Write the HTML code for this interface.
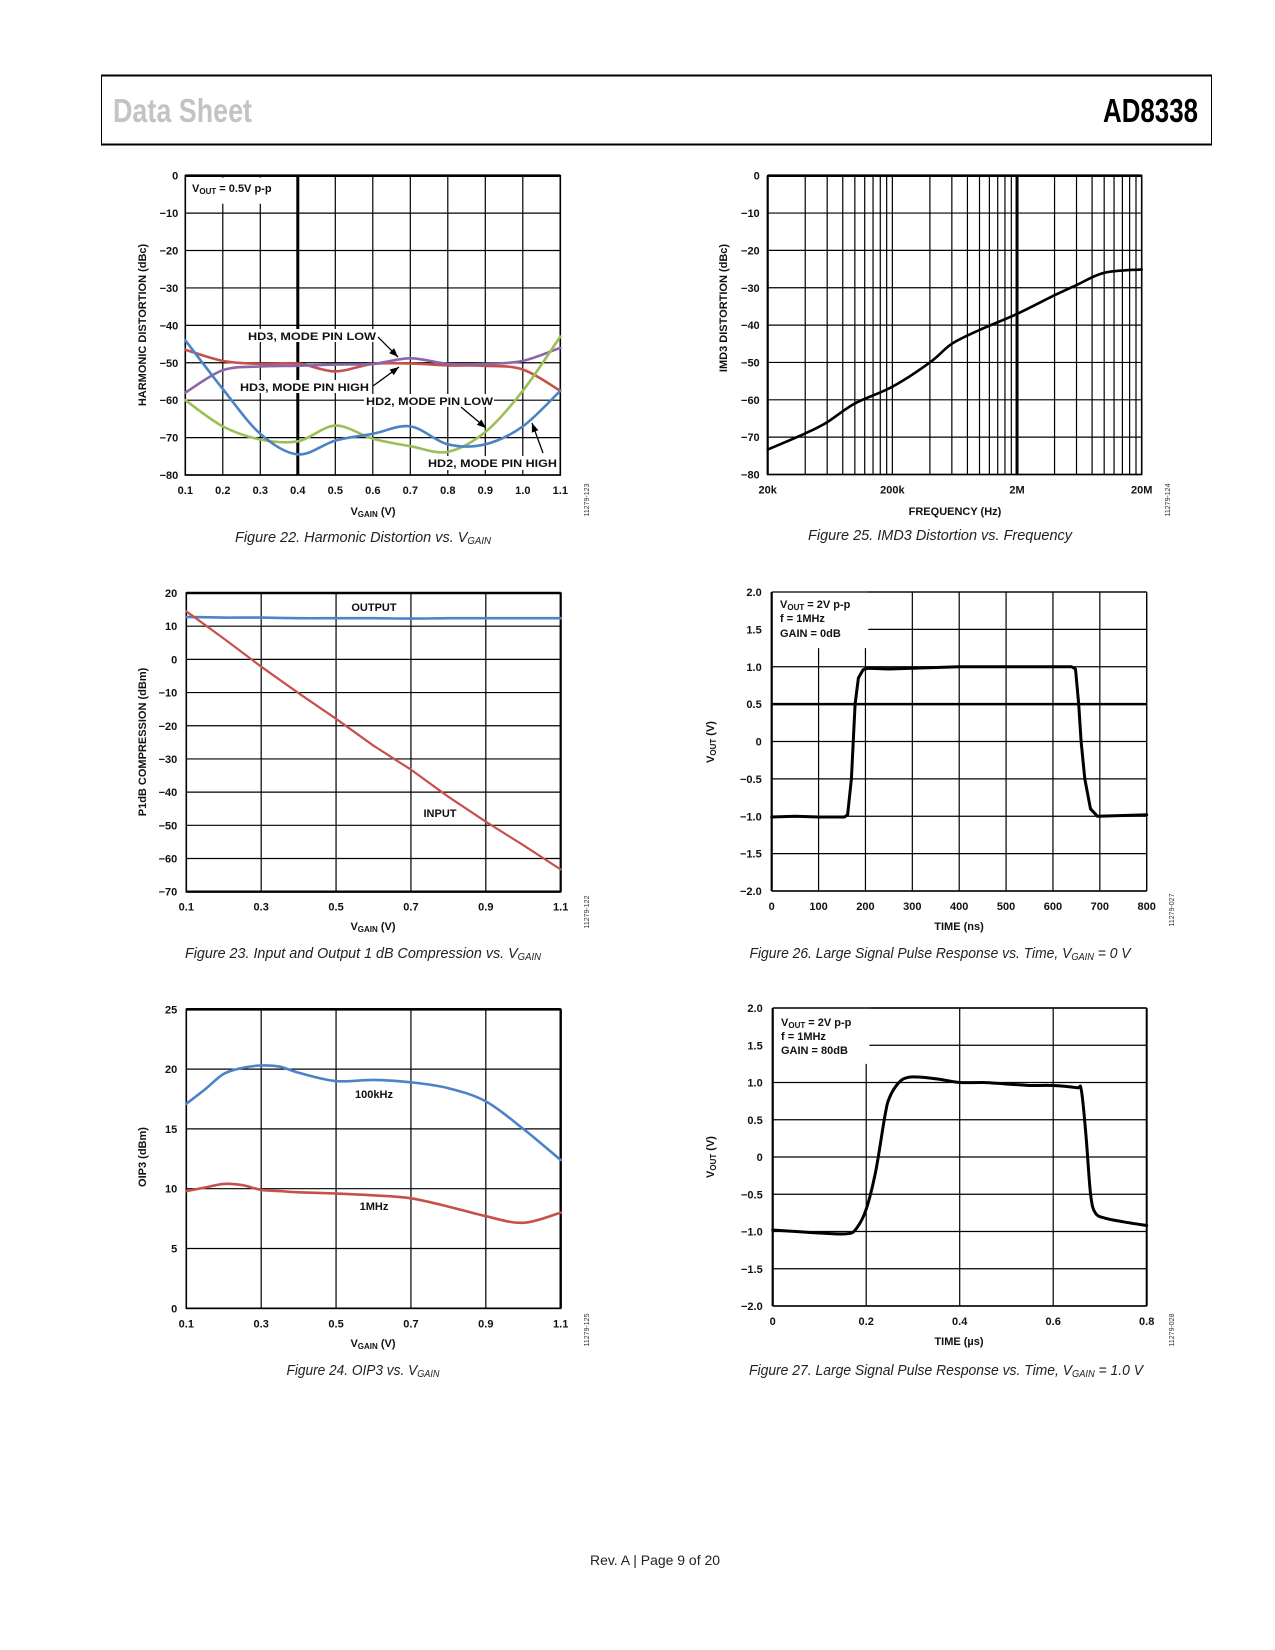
<!DOCTYPE html>
<html><head><meta charset="utf-8"><style>
html,body{margin:0;padding:0;background:#fff}
svg{display:block}
text{font-family:"Liberation Sans",sans-serif}
.t{font-size:11px;font-weight:bold;fill:#111}
.cap{font-size:15px;font-style:italic;fill:#222}
</style></head><body>
<svg id="page" width="1275" height="1650" viewBox="0 0 1275 1650" xmlns="http://www.w3.org/2000/svg">
<line x1="101" y1="75.5" x2="1212" y2="75.5" stroke="#000" stroke-width="2"/>
<line x1="101" y1="144.5" x2="1212" y2="144.5" stroke="#000" stroke-width="2"/>
<line x1="101.5" y1="75" x2="101.5" y2="145" stroke="#000" stroke-width="1"/>
<line x1="1211.5" y1="75" x2="1211.5" y2="145" stroke="#000" stroke-width="1"/>
<text x="113" y="122" font-size="33" font-weight="bold" fill="#c3c3c3" textLength="139" lengthAdjust="spacingAndGlyphs">Data Sheet</text>
<text x="1103" y="122" font-size="33" font-weight="bold" fill="#000" textLength="95" lengthAdjust="spacingAndGlyphs">AD8338</text>
<g id="charts"></g>
<text class="cap" x="363" y="542" text-anchor="middle" textLength="256" lengthAdjust="spacingAndGlyphs">Figure 22. Harmonic Distortion vs. V<tspan font-size="10" dy="2">GAIN</tspan></text>
<text class="cap" x="940" y="540" text-anchor="middle" textLength="264" lengthAdjust="spacingAndGlyphs">Figure 25. IMD3 Distortion vs. Frequency</text>
<text class="cap" x="363" y="958" text-anchor="middle" textLength="356" lengthAdjust="spacingAndGlyphs">Figure 23. Input and Output 1 dB Compression vs. V<tspan font-size="10" dy="2">GAIN</tspan></text>
<text class="cap" x="940" y="958" text-anchor="middle" textLength="381" lengthAdjust="spacingAndGlyphs">Figure 26. Large Signal Pulse Response vs. Time, V<tspan font-size="10" dy="2">GAIN</tspan><tspan dy="-2"> = 0 V</tspan></text>
<text class="cap" x="363" y="1375" text-anchor="middle" textLength="153" lengthAdjust="spacingAndGlyphs">Figure 24. OIP3 vs. V<tspan font-size="10" dy="2">GAIN</tspan></text>
<text class="cap" x="946" y="1375" text-anchor="middle" textLength="394" lengthAdjust="spacingAndGlyphs">Figure 27. Large Signal Pulse Response vs. Time, V<tspan font-size="10" dy="2">GAIN</tspan><tspan dy="-2"> = 1.0 V</tspan></text>
<text x="655" y="1565" font-size="14" fill="#222" text-anchor="middle" textLength="130" lengthAdjust="spacingAndGlyphs">Rev. A | Page 9 of 20</text>
</svg>
<script>
// ---- Figure 22 data ----
const hdX = [0.1,0.2,0.3,0.4,0.5,0.6,0.7,0.8,0.9,1.0,1.1];
const hd2High = [-44,-57,-69,-74.5,-70.8,-69,-67,-71.8,-71.8,-67,-57.5];
const hd2Low = [-60,-67,-70.5,-71,-66.8,-70.3,-72.3,-73.8,-68.5,-57.5,-43];
const hd3High = [-46.5,-49.5,-50.3,-50.2,-52.3,-50.3,-50.2,-50.7,-50.8,-51.8,-57.5];
const hd3Low = [-58,-52,-51,-50.8,-50.5,-50.3,-48.8,-50.3,-50.3,-49.5,-46];
const hdYTicks = [0,-10,-20,-30,-40,-50,-60,-70,-80];
const hdXTicks = ["0.1","0.2","0.3","0.4","0.5","0.6","0.7","0.8","0.9","1.0","1.1"];
// ---- Figure 25 data ----
const imdFreq = [20e3,40e3,60e3,100e3,200e3,400e3,600e3,1e6,2e6,4e6,6e6,10e6,20e6];
const imdVal = [-73.3,-69,-66,-61,-56.5,-50,-45,-41.3,-37,-32,-29.3,-26,-25.1];
const imdYTicks = [0,-10,-20,-30,-40,-50,-60,-70,-80];
const imdXTicks = ["20k","200k","2M","20M"];
// ---- Figure 23 data ----
const p1X = [0.1,0.2,0.3,0.4,0.5,0.6,0.7,0.8,0.9,1.0,1.1];
const p1Output = [12.8,12.6,12.6,12.4,12.4,12.4,12.3,12.4,12.4,12.4,12.4];
const p1Input = [14.5,6.3,-2.2,-10.2,-17.9,-26,-33.2,-41.4,-48.9,-56,-63.3];
const p1YTicks = [20,10,0,-10,-20,-30,-40,-50,-60,-70];
const p1XTicks = ["0.1","0.3","0.5","0.7","0.9","1.1"];
// ---- Figure 26 data ----
const pulse0T = [0,50,100,155,162,170,178,185,195,205,250,300,350,400,500,600,640,648,655,660,668,680,695,750,800];
const pulse0V = [-1.01,-1.0,-1.01,-1.01,-0.98,-0.5,0.5,0.85,0.96,0.98,0.97,0.98,0.99,1.0,1.0,1.0,1.0,0.97,0.5,0.0,-0.5,-0.9,-1.0,-0.99,-0.98];
const pulseYTicks = ["2.0","1.5","1.0","0.5","0","\u22120.5","\u22121.0","\u22121.5","\u22122.0"];
const pulse0XTicks = ["0","100","200","300","400","500","600","700","800"];
// ---- Figure 24 data ----
const oipX = [0.1,0.15,0.2,0.25,0.3,0.35,0.4,0.5,0.6,0.7,0.8,0.9,1.0,1.1];
const oip100k = [17.1,18.3,19.6,20.1,20.3,20.2,19.7,19.0,19.1,18.9,18.4,17.3,15.0,12.4];
const oip1M = [9.8,10.1,10.4,10.3,9.9,9.8,9.7,9.6,9.45,9.2,8.5,7.7,7.15,8.0];
const oipYTicks = [25,20,15,10,5,0];
const oipXTicks = ["0.1","0.3","0.5","0.7","0.9","1.1"];
// ---- Figure 27 data ----
const pulse80T = [0,0.05,0.1,0.16,0.18,0.2,0.22,0.24,0.25,0.27,0.29,0.32,0.36,0.4,0.45,0.5,0.55,0.6,0.65,0.66,0.67,0.68,0.69,0.71,0.75,0.8];
const pulse80V = [-0.98,-1.0,-1.02,-1.03,-0.95,-0.7,-0.2,0.55,0.8,1.0,1.07,1.07,1.04,1.0,1.0,0.98,0.96,0.96,0.93,0.9,0.3,-0.5,-0.75,-0.82,-0.87,-0.92];
const pulse80XTicks = ["0","0.2","0.4","0.6","0.8"];

const NS = "http://www.w3.org/2000/svg";
const root = document.getElementById("charts");
function mk(tag, attrs, parent){const e=document.createElementNS(NS,tag);for(const k in attrs)e.setAttribute(k,attrs[k]);(parent||root).appendChild(e);return e;}
function fmt(v){return String(v).replace("-","\u2212");}
function axes(x0,x1,y0,y1,xmin,xmax,ymin,ymax,log){
  const sx = log ? v=>x0+(Math.log10(v)-Math.log10(xmin))/(Math.log10(xmax)-Math.log10(xmin))*(x1-x0)
                 : v=>x0+(v-xmin)/(xmax-xmin)*(x1-x0);
  const sy = v=>y0+(ymax-v)/(ymax-ymin)*(y1-y0);
  return {sx,sy};
}
function smoothPath(pts){
  let d="M"+pts[0][0].toFixed(1)+","+pts[0][1].toFixed(1);
  for(let i=0;i<pts.length-1;i++){
    const p0=pts[i-1]||pts[i],p1=pts[i],p2=pts[i+1],p3=pts[i+2]||p2;
    const c1=[p1[0]+(p2[0]-p0[0])/6,p1[1]+(p2[1]-p0[1])/6];
    const c2=[p2[0]-(p3[0]-p1[0])/6,p2[1]-(p3[1]-p1[1])/6];
    d+="C"+c1[0].toFixed(1)+","+c1[1].toFixed(1)+" "+c2[0].toFixed(1)+","+c2[1].toFixed(1)+" "+p2[0].toFixed(1)+","+p2[1].toFixed(1);
  }
  return d;
}
function lineD(pts){return "M"+pts.map(p=>p[0].toFixed(1)+","+p[1].toFixed(1)).join("L");}
function gl(g,x1,y1,x2,y2,w){const l=mk("line",{x1,y1,x2,y2,stroke:"#000","stroke-width":w||1.2},g);return l;}
function txt(g,x,y,s,anchor,name,extra){const t=mk("text",Object.assign({x,y,"text-anchor":anchor||"start",class:"t"},extra||{}),g);t.textContent=s;return t;}
function frame(g,x0,x1,y0,y1){const r=mk("rect",{x:x0,y:y0,width:x1-x0,height:y1-y0,fill:"none",stroke:"#000","stroke-width":1.6},g);
  gl(g,x0,y0,x1,y0,2.6);}
function yTitle(g,x,cy,s,name){const t=mk("text",{x:0,y:0,"text-anchor":"middle",class:"t",transform:`translate(${x},${cy}) rotate(-90)`},g);t.textContent=s;return t;}
function vgainTitle(g,cx,y){const t=mk("text",{x:cx,y,"text-anchor":"middle",class:"t"},g);
  t.innerHTML='V<tspan font-size="8" dy="2">GAIN</tspan><tspan dy="-2"> (V)</tspan>';}
function figId(g,x,cy,s){const t=mk("text",{x:0,y:0,"text-anchor":"middle","font-size":7,fill:"#333",transform:`translate(${x},${cy}) rotate(-90)`},g);t.textContent=s;}
function series(g,pts,color,w,name,smooth){const p=mk("path",{d:smooth?smoothPath(pts):lineD(pts),fill:"none",stroke:color,"stroke-width":w,"stroke-linejoin":"round","stroke-linecap":"round"},g);}
function arrow(g,x1,y1,x2,y2,name){const l=mk("line",{x1,y1,x2,y2,stroke:"#000","stroke-width":1.3},g);
  const a=Math.atan2(y2-y1,x2-x1),L=9,W=3.5;
  const p=mk("polygon",{points:`${x2},${y2} ${x2-L*Math.cos(a)+W*Math.sin(a)},${y2-L*Math.sin(a)-W*Math.cos(a)} ${x2-L*Math.cos(a)-W*Math.sin(a)},${y2-L*Math.sin(a)+W*Math.cos(a)}`,fill:"#000"},g);
  }
function whiteBox(g,x,y,w,h){const r=mk("rect",{x,y,width:w,height:h,fill:"#fff"},g);}
function vout(g,x,cy){const t=mk("text",{x:0,y:0,"text-anchor":"middle",class:"t",transform:`translate(${x},${cy}) rotate(-90)`},g);t.innerHTML='V<tspan font-size="8" dy="2">OUT</tspan><tspan dy="-2"> (V)</tspan>';}

// ===== Figure 22 =====
(function(){
  const g=mk("g",{});
  const X0=185.3,X1=560.3,Y0=175.7,Y1=475;
  const {sx,sy}=axes(X0,X1,Y0,Y1,0.1,1.1,-80,0);
  hdXTicks.forEach(s=>{const v=+s;gl(g,sx(v),Y0,sx(v),Y1,Math.abs(v-0.4)<1e-6?3:1.2);txt(g,sx(v),Y1+19,s,"middle","x-tick-label");});
  hdYTicks.forEach(v=>{gl(g,X0,sy(v),X1,sy(v));txt(g,X0-7,sy(v)+4,fmt(v),"end","y-tick-label");});
  whiteBox(g,X0+1,Y0+2,sx(0.4)-X0-3,sy(-7.5)-Y0-2);
  frame(g,X0,X1,Y0,Y1);
  const t=txt(g,192,192,"","start","vout-annotation");t.innerHTML='V<tspan font-size="8" dy="2">OUT</tspan><tspan dy="-2"> = 0.5V p-p</tspan>';
  whiteBox(g,364,394,130,13);
  whiteBox(g,246,329,132,13);
  series(g,hdX.map((x,i)=>[sx(x),sy(hd3High[i])]),"#c8504a",2.6,"hd3-mode-pin-high-line",true);
  series(g,hdX.map((x,i)=>[sx(x),sy(hd3Low[i])]),"#8a65a9",2.6,"hd3-mode-pin-low-line",true);
  series(g,hdX.map((x,i)=>[sx(x),sy(hd2Low[i])]),"#9bbf58",2.6,"hd2-mode-pin-low-line",true);
  series(g,hdX.map((x,i)=>[sx(x),sy(hd2High[i])]),"#4b83c6",2.6,"hd2-mode-pin-high-line",true);
  whiteBox(g,238,380,132,13);
  txt(g,248,340,"HD3, MODE PIN LOW","start","hd3-low-label",{textLength:128,lengthAdjust:"spacingAndGlyphs"});
  arrow(g,378,337,398,357,"hd3-low-arrow");
  txt(g,240,391,"HD3, MODE PIN HIGH","start","hd3-high-label",{textLength:129,lengthAdjust:"spacingAndGlyphs"});
  arrow(g,373,386,399,367,"hd3-high-arrow");
  txt(g,366,405,"HD2, MODE PIN LOW","start","hd2-low-label",{textLength:127,lengthAdjust:"spacingAndGlyphs"});
  arrow(g,461,407,486,428,"hd2-low-arrow");
  whiteBox(g,426,456,132,14);
  txt(g,428,467,"HD2, MODE PIN HIGH","start","hd2-high-label",{textLength:129,lengthAdjust:"spacingAndGlyphs"});
  arrow(g,543,453,532,423,"hd2-high-arrow");
  yTitle(g,146,325,"HARMONIC DISTORTION (dBc)","y-axis-title");
  vgainTitle(g,373,515);
  figId(g,589,500,"11279-123");
})();

// ===== Figure 25 =====
(function(){
  const g=mk("g",{});
  const X0=767.7,X1=1141.7,Y0=175.7,Y1=474.5;
  const {sx,sy}=axes(X0,X1,Y0,Y1,20e3,20e6,-80,0,true);
  [2e4,2e5,2e6].forEach(base=>{[1,2,3,4,5,6,7,8,9].forEach(k=>{const f=base*k;gl(g,sx(f),Y0,sx(f),Y1,Math.abs(f-2e6)<1?3:1.2);});});
  gl(g,sx(20e6),Y0,sx(20e6),Y1);
  imdYTicks.forEach(v=>{gl(g,X0,sy(v),X1,sy(v));txt(g,X0-8,sy(v)+4,fmt(v),"end","y-tick-label");});
  imdXTicks.forEach((s,i)=>txt(g,sx(20e3*Math.pow(10,i)),Y1+19,s,"middle","x-tick-label"));
  frame(g,X0,X1,Y0,Y1);
  gl(g,X0,Y0,X0,Y1,2.2);
  series(g,imdFreq.map((f,i)=>[sx(f),sy(imdVal[i])]),"#000",2.6,"imd3-line",true);
  yTitle(g,727,308,"IMD3 DISTORTION (dBc)","y-axis-title");
  txt(g,955,515,"FREQUENCY (Hz)","middle","x-axis-title");
  figId(g,1170,500,"11279-124");
})();

// ===== Figure 23 =====
(function(){
  const g=mk("g",{});
  const X0=186.3,X1=560.7,Y0=593,Y1=891.7;
  const {sx,sy}=axes(X0,X1,Y0,Y1,0.1,1.1,-70,20);
  p1XTicks.forEach(s=>{gl(g,sx(+s),Y0,sx(+s),Y1);txt(g,sx(+s),Y1+19,s,"middle","x-tick-label");});
  p1YTicks.forEach(v=>{gl(g,X0,sy(v),X1,sy(v));txt(g,X0-9,sy(v)+4,fmt(v),"end","y-tick-label");});
  frame(g,X0,X1,Y0,Y1);gl(g,X0,Y1,X1,Y1,2.4);gl(g,X1,Y0,X1,Y1,2.2);
  whiteBox(g,345,599,58,14);
  txt(g,374,611,"OUTPUT","middle","output-label");
  series(g,p1X.map((x,i)=>[sx(x),sy(p1Output[i])]),"#4b83c6",2.6,"output-line",true);
  series(g,p1X.map((x,i)=>[sx(x),sy(p1Input[i])]),"#c8504a",2.2,"input-line",false);
  txt(g,440,817,"INPUT","middle","input-label");
  yTitle(g,146,742,"P1dB COMPRESSION (dBm)","y-axis-title");
  vgainTitle(g,373,930);
  figId(g,589,912,"11279-122");
})();

// ===== Figure 26 =====
(function(){
  const g=mk("g",{});
  const X0=771.7,X1=1146.7,Y0=592,Y1=891;
  const {sx,sy}=axes(X0,X1,Y0,Y1,0,800,-2,2);
  pulse0XTicks.forEach(s=>{const v=+s;const top=(v>0&&v<=200)?sy(1.25):Y0;gl(g,sx(v),top,sx(v),Y1);txt(g,sx(v),Y1+19,s,"middle","x-tick-label");});
  pulseYTicks.forEach(s=>{const v=+s.replace("\u2212","-");const left=(v>1.25)?sx(206):X0;gl(g,left,sy(v),X1,sy(v),Math.abs(v-0.5)<1e-6?2.6:1.2);txt(g,X0-10,sy(v)+4,s,"end","y-tick-label");});
  gl(g,X0,Y0,X1,Y0,1.2);gl(g,X0,Y0,X0,Y1,2.2);gl(g,X1,Y0,X1,Y1);gl(g,X0,Y1,X1,Y1,1.4);
  const t=txt(g,780,608,"","start","vout-annotation");t.innerHTML='V<tspan font-size="8" dy="2">OUT</tspan><tspan dy="-2"> = 2V p-p</tspan>';
  txt(g,780,622,"f = 1MHz","start","frequency-annotation");
  txt(g,780,637,"GAIN = 0dB","start","gain-annotation");
  series(g,pulse0T.map((t,i)=>[sx(t),sy(pulse0V[i])]),"#000",3,"pulse-trace",false);
  vout(g,714,742);
  txt(g,959,930,"TIME (ns)","middle","x-axis-title");
  figId(g,1174,910,"11279-027");
})();

// ===== Figure 24 =====
(function(){
  const g=mk("g",{});
  const X0=186.3,X1=560.7,Y0=1009.3,Y1=1308.3;
  const {sx,sy}=axes(X0,X1,Y0,Y1,0.1,1.1,0,25);
  oipXTicks.forEach(s=>{gl(g,sx(+s),Y0,sx(+s),Y1);txt(g,sx(+s),Y1+19,s,"middle","x-tick-label");});
  oipYTicks.forEach(v=>{gl(g,X0,sy(v),X1,sy(v));txt(g,X0-9,sy(v)+4,fmt(v),"end","y-tick-label");});
  frame(g,X0,X1,Y0,Y1);gl(g,X1,Y0,X1,Y1,2.4);gl(g,X0,Y0,X1,Y0,1.4);gl(g,X0,Y1,X1,Y1,1.6);
  series(g,oipX.map((x,i)=>[sx(x),sy(oip100k[i])]),"#4b83c6",2.6,"oip3-100khz-line",true);
  series(g,oipX.map((x,i)=>[sx(x),sy(oip1M[i])]),"#c8504a",2.6,"oip3-1mhz-line",true);
  txt(g,374,1098,"100kHz","middle","100khz-label");
  txt(g,374,1210,"1MHz","middle","1mhz-label");
  yTitle(g,146,1157,"OIP3 (dBm)","y-axis-title");
  vgainTitle(g,373,1347);
  figId(g,589,1330,"11279-125");
})();

// ===== Figure 27 =====
(function(){
  const g=mk("g",{});
  const X0=772.7,X1=1146.7,Y0=1008,Y1=1306;
  const {sx,sy}=axes(X0,X1,Y0,Y1,0,0.8,-2,2);
  pulse80XTicks.forEach(s=>{const v=+s;const top=(v>0&&v<=0.2)?sy(1.25):Y0;gl(g,sx(v),top,sx(v),Y1);txt(g,sx(v),Y1+19,s,"middle","x-tick-label");});
  pulseYTicks.forEach(s=>{const v=+s.replace("\u2212","-");const left=(v>1.25)?sx(0.207):X0;gl(g,left,sy(v),X1,sy(v));txt(g,X0-10,sy(v)+4,s,"end","y-tick-label");});
  gl(g,X0,Y0,X1,Y0,1.4);gl(g,X0,Y0,X0,Y1,2.2);gl(g,X1,Y0,X1,Y1,2);gl(g,X0,Y1,X1,Y1,1.6);
  const t=txt(g,781,1026,"","start","vout-annotation");t.innerHTML='V<tspan font-size="8" dy="2">OUT</tspan><tspan dy="-2"> = 2V p-p</tspan>';
  txt(g,781,1040,"f = 1MHz","start","frequency-annotation");
  txt(g,781,1054,"GAIN = 80dB","start","gain-annotation");
  series(g,pulse80T.map((t,i)=>[sx(t),sy(pulse80V[i])]),"#000",3,"pulse-trace",true);
  vout(g,714,1157);
  txt(g,959,1345,"TIME (\u00b5s)","middle","x-axis-title");
  figId(g,1174,1330,"11279-028");
})();
</script>
</body></html>
